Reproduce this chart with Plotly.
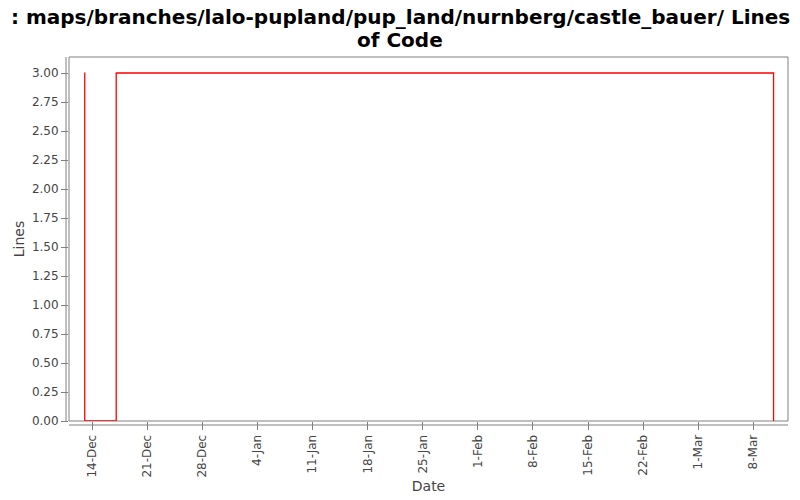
import plotly.graph_objects as go

# Lines of code over time (step series)
dates = ["2008-12-13 00:00", "2008-12-13 01:00", "2008-12-17 01:00", "2009-03-10 14:00"]
lines = [3, 0, 3, 0]

tick_dates = ["2008-12-14", "2008-12-21", "2008-12-28", "2009-01-04", "2009-01-11",
              "2009-01-18", "2009-01-25", "2009-02-01", "2009-02-08", "2009-02-15",
              "2009-02-22", "2009-03-01", "2009-03-08"]
tick_labels = ["14-Dec", "21-Dec", "28-Dec", "4-Jan", "11-Jan", "18-Jan", "25-Jan",
               "1-Feb", "8-Feb", "15-Feb", "22-Feb", "1-Mar", "8-Mar"]
y_ticks = [i * 0.25 for i in range(13)]

title_lines = [": maps/branches/lalo-pupland/pup_land/nurnberg/castle_bauer/ Lines", "of Code"]

FONT = "DejaVu Sans"
GRAY = "#808080"
TXT = "#444444"

fig = go.Figure()
fig.add_trace(go.Scatter(
    x=dates, y=lines, mode="lines", line=dict(color="red", width=1.3, shape="hv"),
    showlegend=False, hoverinfo="x+y"
))

fig.update_layout(
    width=800, height=500,
    paper_bgcolor="white", plot_bgcolor="white",
    margin=dict(l=69, r=12, t=57, b=79, autoexpand=False),
    font=dict(family=FONT, size=12, color=TXT),
    xaxis=dict(
        type="date", range=["2008-12-11 01:00", "2009-03-12 10:00"], automargin=False,
        tickmode="array", tickvals=tick_dates, ticktext=tick_labels, tickangle=-90,
        ticks="outside", ticklen=8, tickcolor=GRAY, showgrid=False, zeroline=False,
        showline=False, tickfont=dict(family=FONT, size=12, color=TXT),
        title=dict(text="Date", font=dict(family=FONT, size=14, color=TXT), standoff=4),
    ),
    yaxis=dict(
        range=[0, 3.138], tickmode="array", tickvals=y_ticks, automargin=False,
        ticktext=["%.2f" % v for v in y_ticks],
        ticks="outside", ticklen=7, tickcolor=GRAY, showgrid=False, zeroline=False,
        showline=False, tickfont=dict(family=FONT, size=12, color=TXT),
        title=dict(text="Lines", font=dict(family=FONT, size=14, color=TXT), standoff=3),
    ),
)

# title as two lines, placed by pixel offset from the top of the page
for i, txt in enumerate(title_lines):
    top_px = 3 + 23 * i
    fig.add_annotation(text="<b>" + txt + "</b>", xref="paper", yref="paper",
                       x=(400 - 69) / 719, y=(500 - 79 - top_px) / 364,
                       xanchor="center", yanchor="top", showarrow=False,
                       font=dict(family=FONT, size=20, color="black"))

# plot border and offset axis lines
fig.add_shape(type="rect", xref="paper", yref="paper", x0=0, y0=0, x1=1, y1=1,
              line=dict(color=GRAY, width=1), layer="below")
fig.add_shape(type="line", xref="paper", yref="paper", x0=-3 / 719, x1=-3 / 719, y0=0, y1=1,
              line=dict(color=GRAY, width=1))
fig.add_shape(type="line", xref="paper", yref="paper", x0=0, x1=1, y0=-4 / 364, y1=-4 / 364,
              line=dict(color=GRAY, width=1))

# drop the default body margin so the figure sits at the page corner
fig.write_html("out.html", config={"displayModeBar": False},
               post_script="document.body.style.margin='0';")
